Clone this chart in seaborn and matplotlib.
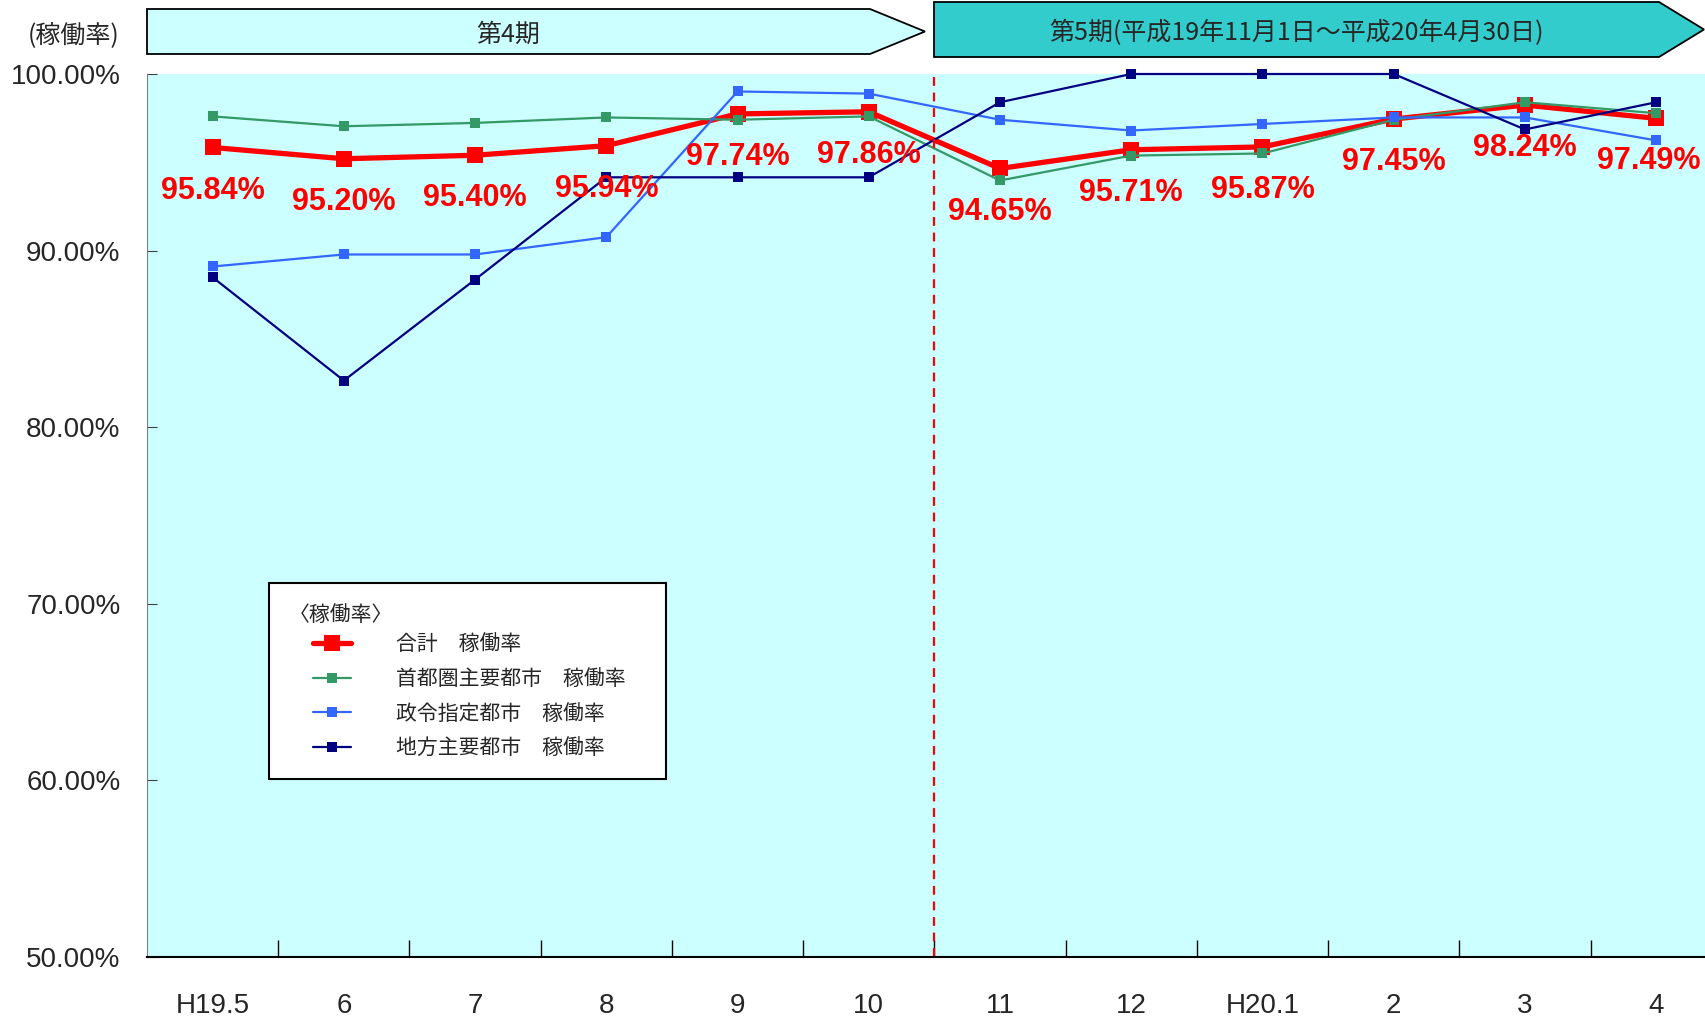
import numpy as np
import pandas as pd
import seaborn as sns
import matplotlib.pyplot as plt
from matplotlib.patches import Polygon, Rectangle

# data
months = ['H19.5', '6', '7', '8', '9', '10', '11', '12', 'H20.1', '2', '3', '4']
total_rate = [95.84, 95.20, 95.40, 95.94, 97.74, 97.86, 94.65, 95.71, 95.87, 97.45, 98.24, 97.49]
shutoken_rate = [97.60, 97.04, 97.23, 97.54, 97.41, 97.60, 93.97, 95.38, 95.50, 97.41, 98.40, 97.78]
seirei_rate = [89.10, 89.78, 89.78, 90.76, 99.01, 98.89, 97.41, 96.80, 97.17, 97.54, 97.54, 96.24]
chiho_rate = [88.49, 82.64, 88.36, 94.15, 94.15, 94.15, 98.40, 100.0, 100.0, 100.0, 96.86, 98.40]
series_names = ['合計\u3000稼働率', '首都圏主要都市\u3000稼働率', '政令指定都市\u3000稼働率', '地方主要都市\u3000稼働率']
period_labels = ['第4期', '第5期(平成19年11月1日～平成20年4月30日)']
y_ticks = [50, 60, 70, 80, 90, 100]

W, H = 1706, 1018

sns.set_style('white')
plt.rcParams['font.family'] = ['Noto Sans CJK JP', 'DejaVu Sans']
latin = ['Liberation Sans', 'DejaVu Sans']

df = pd.DataFrame({'pos': np.arange(len(months)), 'month': months,
                   series_names[0]: total_rate, series_names[1]: shutoken_rate,
                   series_names[2]: seirei_rate, series_names[3]: chiho_rate})

fig = plt.figure(figsize=(W / 100, H / 100), dpi=100)
ax = fig.add_axes([147 / W, 1 - 957 / H, 1 - 147 / W, (957 - 74) / H])
ax.set_facecolor('#CCFFFF')

styles = {series_names[0]: ('#FF0000', 3.8, 11),
          series_names[1]: ('#339966', 1.6, 7),
          series_names[2]: ('#3366FF', 1.6, 7),
          series_names[3]: ('#000080', 1.6, 7)}
for name in series_names:
    col, lw, ms = styles[name]
    sns.lineplot(data=df, x='pos', y=name, ax=ax, color=col, linewidth=lw,
                 marker='s', markersize=ms, markeredgewidth=0, label=name, clip_on=False)

# value labels for the total
for xi, v in zip(df['pos'], total_rate):
    dx = -5 if xi == len(months) - 1 else 0
    ax.annotate(f'{v:.2f}%', (xi, v), xytext=(dx, -31), textcoords='offset points',
                ha='center', va='center', color='#FF0000', fontsize=22, fontweight='bold',
                family=latin, annotation_clip=False)

ax.axvline(5.5, color='#FF0000', linestyle=(0, (4, 3)), linewidth=1.6)

ax.set_xlim(-0.5, 11.38)
ax.set_ylim(50, 100)
ax.set_xlabel('')
ax.set_ylabel('')
ax.set_yticks(y_ticks, [f'{t:.2f}%' for t in y_ticks], family=latin)
ax.set_xticks(df['pos'], months, family=latin)
ax.set_xticks(df['pos'][:-1] + 0.5, minor=True)
ax.tick_params(axis='y', left=True, direction='in', length=7, color='#404040', pad=19, labelsize=20)
ax.tick_params(axis='x', which='major', bottom=True, length=0, pad=26, labelsize=20)
ax.tick_params(axis='x', which='minor', bottom=True, direction='in', length=12, color='black', width=1)
ax.grid(False)
for s in ['top', 'right']:
    ax.spines[s].set_visible(False)
ax.spines['left'].set_color('#808080')
ax.spines['bottom'].set_color('black')
ax.spines['bottom'].set_linewidth(1.5)

# legend: frame and title drawn by hand so the title sits left of the handles
ax.add_patch(Rectangle((0.0782, 0.2020), 0.2547, 0.2216, transform=ax.transAxes,
                       facecolor='white', edgecolor='black', linewidth=1.5, zorder=4))
ax.text(0.0907, 0.3879, '〈稼働率〉', transform=ax.transAxes, ha='left', va='center',
        fontsize=15, zorder=6)
leg = ax.legend(loc='upper left', bbox_to_anchor=(0.1065, 0.367), frameon=False,
                fontsize=15, handlelength=1.8, handletextpad=2.2, labelspacing=0.62,
                borderpad=0, borderaxespad=0)
leg.set_zorder(6)


# period arrows above the plot
def period_arrow(x0, x1, tip, top, bottom, color, text):
    mid = (top + bottom) / 2
    pts = [(x0, top), (x1, top), (tip, mid), (x1, bottom), (x0, bottom)]
    pts = [(px / W, 1 - py / H) for px, py in pts]
    fig.add_artist(Polygon(pts, closed=True, facecolor=color, edgecolor='black',
                           linewidth=1.3, transform=fig.transFigure))
    fig.text((x0 + x1) / 2 / W, 1 - (mid + 3) / H, text, ha='center', va='center', fontsize=18)


period_arrow(147, 870, 925, 9, 54, '#CCFFFF', period_labels[0])
period_arrow(934, 1659, 1704, 2, 57, '#33CCCC', period_labels[1])

fig.text(74 / W, 1 - 35 / H, '(稼働率)', ha='center', va='center', fontsize=18)

fig.savefig('out.png', dpi=100)
